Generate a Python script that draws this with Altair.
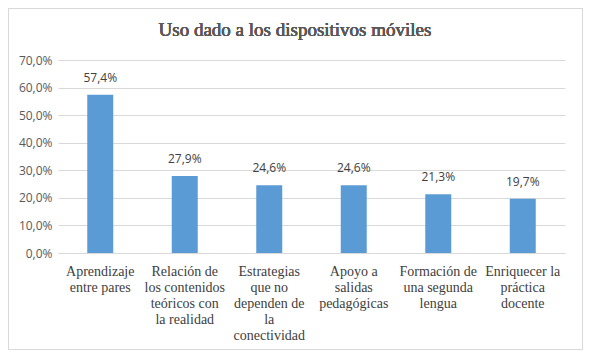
import altair as alt
import pandas as pd

categories = [
    "Aprendizaje\nentre pares",
    "Relación de\nlos contenidos\nteóricos con\nla realidad",
    "Estrategias\nque no\ndependen de\nla\nconectividad",
    "Apoyo a\nsalidas\npedagógicas",
    "Formación de\nuna segunda\nlengua",
    "Enriquecer la\npráctica\ndocente",
]
values = [57.4, 27.9, 24.6, 24.6, 21.3, 19.7]
y_ticks = [0, 10, 20, 30, 40, 50, 60, 70]
title_text = "Uso dado a los dispositivos móviles"

df = pd.DataFrame({"cat": categories, "val": values})
df["lbl"] = [f"{v:.1f}".replace(".", ",") + "%" for v in values]

x = alt.X("cat:N", sort=categories, title=None,
          scale=alt.Scale(paddingInner=0.0, paddingOuter=0.0),
          axis=alt.Axis(labels=False, ticks=False, domainColor="#d9d9d9", grid=False))
y = alt.Y("val:Q", title=None,
          scale=alt.Scale(domain=[0, 70], nice=False),
          axis=alt.Axis(values=y_ticks, ticks=False, domain=False,
                        gridColor="#d9d9d9", labelFont="Open Sans",
                        labelFontSize=12, labelColor="#595959", labelPadding=6,
                        labelExpr="replace(format(datum.value, '.1f'), '.', ',') + '%'"))

bars = alt.Chart().mark_bar(color="#5b9bd5", size=26).encode(y=y)
text = alt.Chart().mark_text(baseline="bottom", dy=-10, font="Open Sans",
                             fontSize=12, color="#404040").encode(y=y, text="lbl:N")
cat_labels = alt.Chart().mark_text(font="Liberation Serif", fontSize=14,
                                   color="#404040", baseline="alphabetic",
                                   lineBreak="\n", lineHeight=16).encode(
    y=alt.value(216), text="cat:N")
border = alt.Chart().mark_rect(fill=None, stroke="#d9d9d9", strokeWidth=1).encode(
    x=alt.value(-49.5), x2=alt.value(524.5), y=alt.value(-51.5), y2=alt.value(289.5))
title = alt.Chart().mark_text(font="Liberation Serif", fontSize=19, fontWeight="normal",
                              color="#595959", baseline="alphabetic").encode(
    x=alt.value(237), y=alt.value(-24), text=alt.value(title_text))

chart = alt.layer(bars, text, cat_labels, data=df).encode(x=x)
chart = alt.layer(border, chart, title, data=df).properties(
    width=507, height=193, background="white",
    autosize=alt.AutoSizeParams(type="none"),
    padding={"left": 50, "top": 52, "right": 18, "bottom": 97},
).configure_view(stroke=None)

chart.save("out.html", embed_options={"renderer": "svg", "actions": False})
